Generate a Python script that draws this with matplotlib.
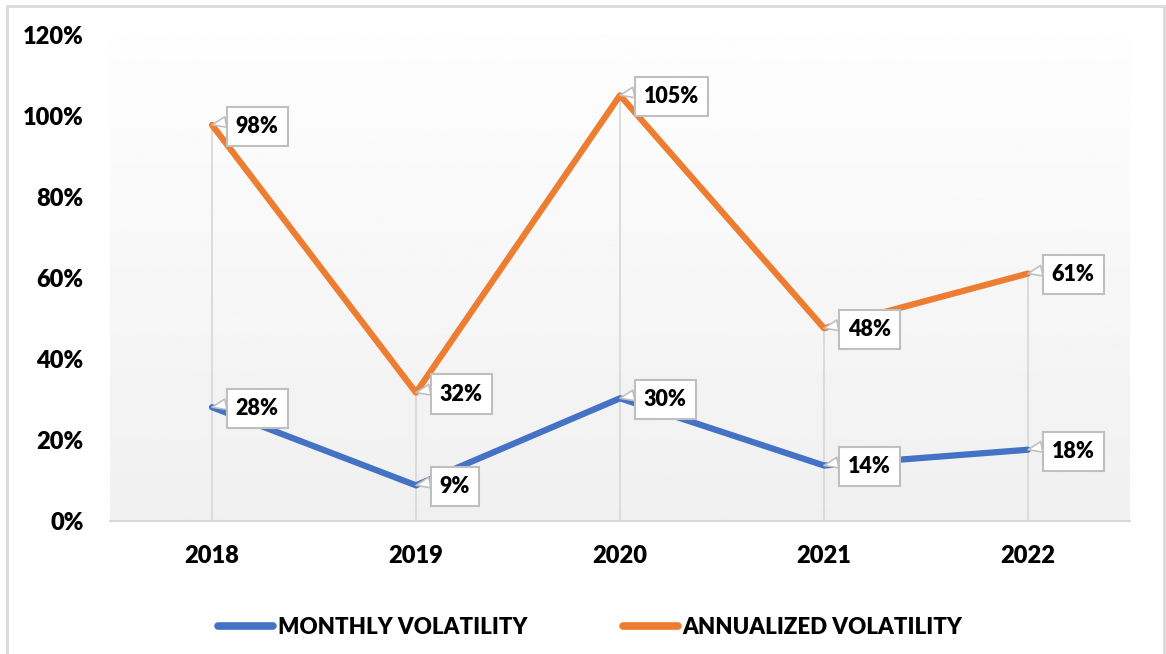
import matplotlib
matplotlib.use("Agg")
import matplotlib.pyplot as plt
import numpy as np
from matplotlib.patches import Rectangle

years = ["2018", "2019", "2020", "2021", "2022"]
monthly = [0.281, 0.088, 0.303, 0.137, 0.176]
annualized = [0.978, 0.317, 1.051, 0.476, 0.611]
y_ticks = [0, 0.2, 0.4, 0.6, 0.8, 1.0, 1.2]

BLUE = "#4472C4"
ORANGE = "#ED7D31"
GRID = "#d9d9d9"
WEIGHT = "heavy"

plt.rcParams["font.family"] = ["Lato", "DejaVu Sans"]

fig = plt.figure(figsize=(11.66, 6.54), dpi=100)
ax = fig.add_axes([110 / 1166, 1 - 521 / 654, 1020 / 1166, 486 / 654])

x = np.arange(len(years))
ax.set_xlim(-0.5, len(years) - 0.5)
ax.set_ylim(0, 1.2)

# plot-area gradient, white on top to light grey at the bottom
grad = np.linspace(0.94, 0.995, 256).reshape(-1, 1)
ax.imshow(grad, cmap="gray", vmin=0, vmax=1, origin="lower", aspect="auto",
          extent=(-0.5, len(years) - 0.5, 0, 1.2), zorder=0)

# drop lines from the upper series
ax.vlines(x, 0, annualized, color=GRID, linewidth=1.3, zorder=1)

ax.plot(x, monthly, color=BLUE, linewidth=4.5, solid_capstyle="round",
        solid_joinstyle="round", label="MONTHLY VOLATILITY", zorder=3)
ax.plot(x, annualized, color=ORANGE, linewidth=4.5, solid_capstyle="round",
        solid_joinstyle="round", label="ANNUALIZED VOLATILITY", zorder=3)

for series in (monthly, annualized):
    for xi, v in zip(x, series):
        ax.annotate(f"{v:.0%}", xy=(xi, v), xytext=(17, -1), textcoords="offset points",
                    ha="left", va="center", fontsize=15.5, fontweight=WEIGHT, color="black",
                    bbox=dict(boxstyle="square,pad=0.42", fc="white", ec="#bfbfbf", lw=1.5),
                    arrowprops=dict(arrowstyle="wedge,tail_width=0.5,shrink_factor=0.5",
                                    fc="white", ec="#bfbfbf", lw=1.2,
                                    relpos=(0.0, 0.8), shrinkA=0, shrinkB=0),
                    zorder=5)

ax.set_xticks(x)
ax.set_xticklabels(years, fontsize=17, fontweight=WEIGHT)
ax.set_yticks(y_ticks)
ax.set_yticklabels([f"{t:.0%}" for t in y_ticks], fontsize=17, fontweight=WEIGHT)
ax.tick_params(axis="both", length=0)
ax.tick_params(axis="x", pad=17)
ax.tick_params(axis="y", pad=19)

for side in ["top", "right", "left"]:
    ax.spines[side].set_visible(False)
ax.spines["bottom"].set_color(GRID)
ax.spines["bottom"].set_linewidth(1.5)

leg = fig.legend(loc="center", bbox_to_anchor=(0.506, 1 - 627 / 654), ncol=2, frameon=False,
                 handlelength=2.5, handletextpad=0.2, columnspacing=4.3,
                 prop={"weight": WEIGHT, "size": 16})
for line in leg.get_lines():
    line.set_linewidth(5.5)

# outer chart border
fig.patches.append(Rectangle((7 / 1166, -0.05), 1157 / 1166, 1.05 - 6 / 654,
                             transform=fig.transFigure, fill=False, ec=GRID, lw=2))

fig.savefig("out.png", dpi=100)
